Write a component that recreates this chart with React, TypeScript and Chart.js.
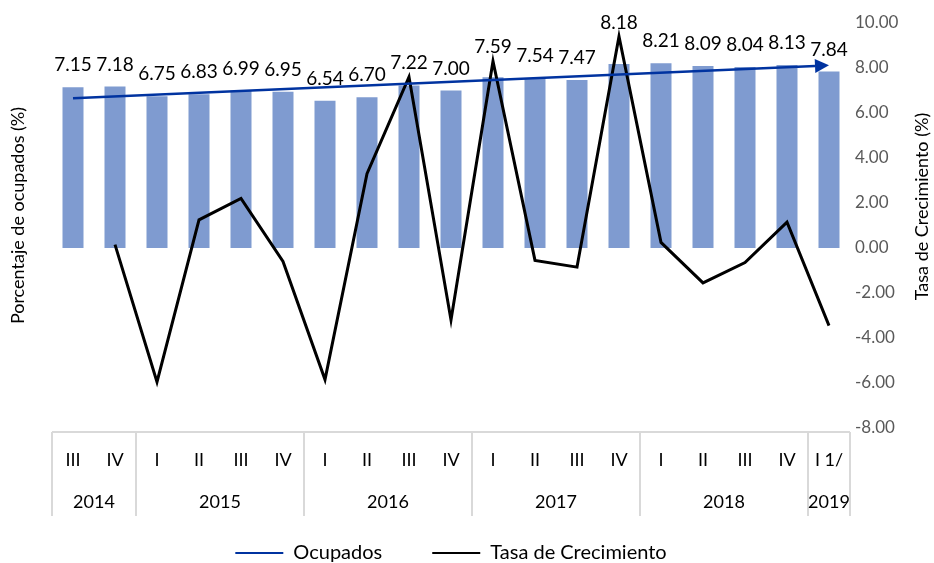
import React, { useEffect, useRef } from 'react';
import { Chart, registerables } from 'chart.js';

Chart.register(...registerables);

const quarters = ['III', 'IV', 'I', 'II', 'III', 'IV', 'I', 'II', 'III', 'IV', 'I', 'II', 'III', 'IV', 'I', 'II', 'III', 'IV', 'I 1/'];
const years = ['2014', '2015', '2016', '2017', '2018', '2019'];
const quartersPerYear = [2, 4, 4, 4, 4, 1];
const ocupados = [7.15, 7.18, 6.75, 6.83, 6.99, 6.95, 6.54, 6.70, 7.22, 7.00, 7.59, 7.54, 7.47, 8.18, 8.21, 8.09, 8.04, 8.13, 7.84];
const crecimiento = [null, 0.15, -5.95, 1.25, 2.2, -0.6, -5.85, 3.3, 7.6, -3.2, 8.3, -0.55, -0.85, 9.4, 0.25, -1.55, -0.65, 1.15, -3.45];
const rightTicks = [10, 8, 6, 4, 2, 0, -2, -4, -6, -8];

const BLUE = '#0033A0';
const BAR = '#7F9BD0';
const FONT = 'Lato';

const tablePlugin = {
  id: 'tableAxis',
  afterDraw(chart: any) {
    const { ctx, chartArea } = chart;
    const x = chart.scales.x;
    const half = (x.getPixelForTick(1) - x.getPixelForTick(0)) / 2;
    const top = chartArea.bottom + 4;
    const bottom = top + 84;
    ctx.save();
    ctx.strokeStyle = '#D9D9D9';
    ctx.lineWidth = 2;
    ctx.beginPath();
    ctx.moveTo(chartArea.left, top);
    ctx.lineTo(chartArea.right, top);
    ctx.stroke();
    ctx.font = `18px ${FONT}`;
    ctx.fillStyle = '#000';
    ctx.textAlign = 'center';
    ctx.textBaseline = 'middle';
    let idx = 0;
    const edge0 = x.getPixelForTick(0) - half;
    ctx.beginPath();
    ctx.moveTo(edge0, top);
    ctx.lineTo(edge0, bottom);
    ctx.stroke();
    quartersPerYear.forEach((n, k) => {
      const first = x.getPixelForTick(idx);
      const last = x.getPixelForTick(idx + n - 1);
      const edge = last + half;
      ctx.beginPath();
      ctx.moveTo(edge, top);
      ctx.lineTo(edge, bottom);
      ctx.stroke();
      ctx.fillText(years[k], (first + last) / 2, top + 70);
      idx += n;
    });
    ctx.restore();
  },
};

const titlesPlugin = {
  id: 'sideTitles',
  afterDraw(chart: any) {
    const { ctx, chartArea } = chart;
    const mid = (chartArea.top + chartArea.bottom) / 2;
    ctx.save();
    ctx.font = `18px ${FONT}`;
    ctx.fillStyle = '#000';
    ctx.textAlign = 'center';
    ctx.textBaseline = 'middle';
    ctx.save();
    ctx.translate(18, mid - 10);
    ctx.rotate(-Math.PI / 2);
    ctx.fillText('Porcentaje de ocupados (%)', 0, 0);
    ctx.restore();
    ctx.save();
    ctx.translate(922, mid - 19);
    ctx.rotate(-Math.PI / 2);
    ctx.fillText('Tasa de Crecimiento (%)', 0, 0);
    ctx.restore();
    ctx.restore();
  },
};

const trendAndLabelsPlugin = {
  id: 'trendLabels',
  afterDatasetsDraw(chart: any) {
    const { ctx } = chart;
    const x = chart.scales.x;
    const y = chart.scales.y;
    const n = ocupados.length;
    const mx = (n - 1) / 2;
    const my = ocupados.reduce((a, b) => a + b, 0) / n;
    let sxy = 0;
    let sxx = 0;
    ocupados.forEach((v, i) => {
      sxy += (i - mx) * (v - my);
      sxx += (i - mx) * (i - mx);
    });
    const slope = sxy / sxx;
    const x0 = x.getPixelForTick(0);
    const y0 = y.getPixelForValue(my - slope * mx);
    const x1 = x.getPixelForTick(n - 1);
    const y1 = y.getPixelForValue(my + slope * (n - 1 - mx));
    const ang = Math.atan2(y1 - y0, x1 - x0);
    const len = 14;
    const hw = 7;
    const bx = x1 - len * Math.cos(ang);
    const by = y1 - len * Math.sin(ang);
    ctx.save();
    ctx.strokeStyle = BLUE;
    ctx.fillStyle = BLUE;
    ctx.lineWidth = 2.5;
    ctx.beginPath();
    ctx.moveTo(x0, y0);
    ctx.lineTo(bx, by);
    ctx.stroke();
    ctx.beginPath();
    ctx.moveTo(x1, y1);
    ctx.lineTo(bx + hw * Math.sin(ang), by - hw * Math.cos(ang));
    ctx.lineTo(bx - hw * Math.sin(ang), by + hw * Math.cos(ang));
    ctx.closePath();
    ctx.fill();

    const meta = chart.getDatasetMeta(0);
    ctx.font = `19px ${FONT}`;
    ctx.fillStyle = '#000';
    ctx.textAlign = 'center';
    ctx.textBaseline = 'middle';
    meta.data.forEach((bar: any, i: number) => {
      let ly = bar.y - 22;
      const g = crecimiento[i];
      if (g !== null && g !== undefined) {
        ly = Math.min(ly, y.getPixelForValue(g) - 14);
      }
      ctx.fillText(ocupados[i].toFixed(2), bar.x, ly);
    });
    ctx.restore();
  },
};

export default function App() {
  const ref = useRef<HTMLCanvasElement | null>(null);
  useEffect(() => {
    if (!ref.current) return;
    const chart = new Chart(ref.current, {
      type: 'bar',
      data: {
        labels: quarters,
        datasets: [
          {
            type: 'bar',
            label: 'Ocupados',
            data: ocupados,
            backgroundColor: BAR,
            barPercentage: 0.5,
            categoryPercentage: 1,
            yAxisID: 'y',
            order: 1,
          },
          {
            type: 'line',
            label: 'Tasa de Crecimiento',
            data: crecimiento as any,
            borderColor: '#000',
            backgroundColor: '#000',
            borderWidth: 3,
            borderJoinStyle: 'miter',
            pointRadius: 0,
            tension: 0,
            yAxisID: 'y',
            order: 0,
          },
        ],
      },
      options: {
        responsive: false,
        animation: false,
        layout: { padding: { top: 23, left: 52, right: 0, bottom: 0 } },
        plugins: {
          tooltip: { enabled: false },
          legend: {
            position: 'bottom',
            fullSize: false,
            onClick: () => {},
            labels: {
              boxWidth: 48,
              boxHeight: 2,
              padding: 50,
              color: '#000',
              font: { family: FONT, size: 20 },
              generateLabels: () => [
                { text: 'Ocupados', fillStyle: BLUE, strokeStyle: BLUE, lineWidth: 0, hidden: false, datasetIndex: 0 },
                { text: 'Tasa de Crecimiento', fillStyle: '#000', strokeStyle: '#000', lineWidth: 0, hidden: false, datasetIndex: 1 },
              ],
            },
          },
        },
        scales: {
          x: {
            type: 'category',
            offset: true,
            grid: { display: false, drawTicks: false },
            border: { display: false },
            ticks: {
              color: '#000',
              font: { family: FONT, size: 18 },
              padding: 21,
              maxRotation: 0,
              autoSkip: false,
            },
            afterFit: (s: any) => {
              s.height = 65;
            },
          },
          y: {
            position: 'right',
            min: -8,
            max: 10,
            grid: { display: false, drawTicks: false },
            border: { display: false },
            ticks: {
              color: '#595959',
              font: { family: FONT, size: 17 },
              padding: 5,
              callback: (v: any) => Number(v).toFixed(2),
            },
            afterBuildTicks: (s: any) => {
              s.ticks = rightTicks.map((v) => ({ value: v }));
            },
            afterFit: (s: any) => {
              s.width = 84;
            },
          },
        },
      },
      plugins: [tablePlugin, titlesPlugin, trendAndLabelsPlugin],
    });
    return () => chart.destroy();
  }, []);
  return (
    <div style={{ position: 'absolute', left: 0, top: 0, width: 934, height: 563, overflow: 'hidden', background: '#fff' }}>
      <canvas ref={ref} width={934} height={573} style={{ display: 'block' }} />
    </div>
  );
}
